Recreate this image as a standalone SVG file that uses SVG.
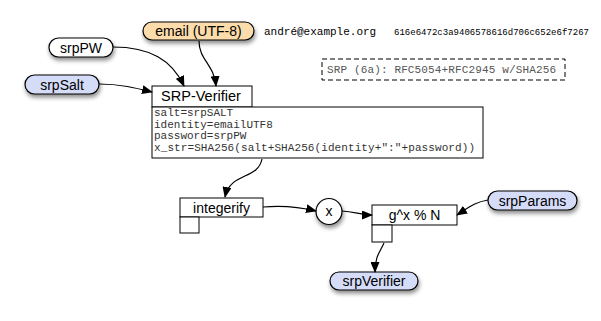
<svg xmlns="http://www.w3.org/2000/svg" width="601" height="321" viewBox="0 0 601 321">
<style>
.pill{stroke:#000;stroke-width:1.2;filter:url(#sh)}
.box{fill:#fff;stroke:#000;stroke-width:1}
.lbl{font-family:"Liberation Sans",Arial,sans-serif;font-size:14px;fill:#000;text-anchor:middle}
.mono{font-family:"Liberation Mono","Courier New",monospace;font-size:11px;fill:#333}
.conn path{fill:none;stroke:#000;stroke-width:1.2;marker-end:url(#ah)}
</style>
<defs>
<filter id="sh" x="-20%" y="-30%" width="150%" height="190%">
<feDropShadow dx="1" dy="3" stdDeviation="2" flood-color="#000" flood-opacity="0.45"/>
</filter>
<marker id="ah" markerWidth="11" markerHeight="9" refX="10" refY="4.5" orient="auto" markerUnits="userSpaceOnUse">
<path d="M0,0 L11,4.5 L0,9 Z" fill="#000"/>
</marker>
</defs>
<rect width="601" height="321" fill="#fff"/>

<g id="email">
<rect class="pill" x="143" y="22" width="111" height="18" rx="9" fill="#fbdcaa"/>
<text class="lbl" x="198.5" y="36">email (UTF-8)</text>
</g>
<g id="srpPW">
<rect class="pill" x="49" y="38" width="64" height="19" rx="9.5" fill="#fff"/>
<text class="lbl" x="81" y="52.5">srpPW</text>
</g>
<g id="srpSalt">
<rect class="pill" x="25" y="75" width="74" height="19" rx="9.5" fill="#d5dcf8"/>
<text class="lbl" x="62" y="89.5">srpSalt</text>
</g>
<g id="emailValue">
<text class="mono" x="264" y="35" style="fill:#000">andré@example.org</text>
<text class="mono" x="394" y="35" style="font-size:9px;fill:#000" textLength="195">616e6472c3a9406578616d706c652e6f7267</text>
</g>
<g id="note">
<rect x="322" y="59" width="243" height="21" fill="none" stroke="#000" stroke-width="1" stroke-dasharray="5,3"/>
<text class="mono" x="327" y="73" style="fill:#555" textLength="229">SRP (6a): RFC5054+RFC2945 w/SHA256</text>
</g>
<g id="srpVerifierBox">
<rect class="box" x="152" y="86" width="100" height="21"/>
<text class="lbl" x="201" y="101" style="font-size:14.5px">SRP-Verifier</text>
<rect class="box" x="152" y="107" width="331" height="51"/>
<text class="mono" x="154" y="116">salt=srpSALT</text>
<text class="mono" x="154" y="127.5">identity=emailUTF8</text>
<text class="mono" x="154" y="139">password=srpPW</text>
<text class="mono" x="154" y="150.5" textLength="321">x_str=SHA256(salt+SHA256(identity+":"+password))</text>
</g>
<g id="integerify">
<rect class="box" x="180" y="198" width="83" height="19"/>
<text class="lbl" x="221.5" y="212.5">integerify</text>
<rect class="box" x="180" y="217" width="19" height="16"/>
</g>
<g id="x">
<circle cx="329" cy="211.5" r="13" fill="#fff" stroke="#000" stroke-width="1.2" filter="url(#sh)"/>
<text class="lbl" x="329" y="216">x</text>
</g>
<g id="gxN">
<rect class="box" x="372" y="205" width="85" height="20"/>
<text class="lbl" x="414.5" y="220">g^x % N</text>
<rect class="box" x="372" y="225" width="20" height="17"/>
</g>
<g id="srpParams">
<rect class="pill" x="488" y="191" width="89" height="19" rx="9.5" fill="#d5dcf8"/>
<text class="lbl" x="532.5" y="205.5">srpParams</text>
</g>
<g id="srpVerifier">
<rect class="pill" x="330" y="272" width="88" height="18" rx="9" fill="#d5dcf8"/>
<text class="lbl" x="374" y="286">srpVerifier</text>
</g>

<g class="conn">
<path d="M113,47 C150,47 172,60 184,86"/>
<path d="M199,41 C199,60 214,64 216,86"/>
<path d="M99,84 C120,84 136,88 152,92"/>
<path d="M262,159 C258,180 230,172 225,197"/>
<path d="M263,207 C285,205 300,207 316,211"/>
<path d="M342,211 C355,212 362,215 372,215"/>
<path d="M488,200 C475,202 468,208 457,215"/>
<path d="M384,243 C380,252 375,256 375,272"/>
</g>
</svg>
